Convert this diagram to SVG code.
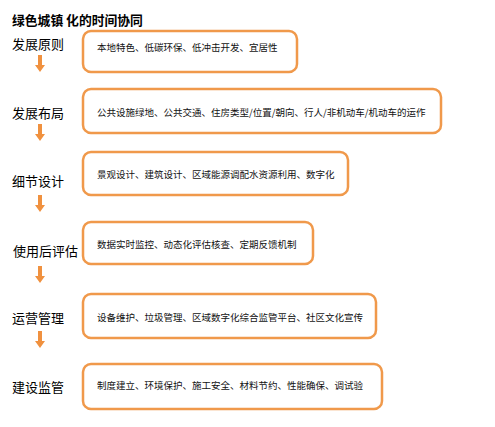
<svg xmlns="http://www.w3.org/2000/svg" width="495" height="427" viewBox="0 0 495 427">
<defs>
<style>
.box{fill:#fff;stroke:#F0994B;stroke-width:2.5}
.lbl{font-family:"Noto Sans CJK SC","Noto Sans",sans-serif;font-size:13px;fill:#000;dominant-baseline:central}
.txt{font-family:"Noto Sans CJK SC","Noto Sans",sans-serif;font-size:9.5px;fill:#111;dominant-baseline:central}
.ttl{font-family:"Noto Sans CJK SC","Noto Sans",sans-serif;font-size:12.8px;font-weight:bold;fill:#000;dominant-baseline:central}
.arr{fill:#F0913F}
</style>
<path id="ar" d="M-2,0 H2 V10 H5 L0,17 L-5,10 H-2 Z"/>
</defs>
<rect width="495" height="427" fill="#fff"/>
<text class="ttl" x="12" y="19">绿色城镇 化的时间协同</text>

<g id="n1">
<text class="lbl" x="12" y="43">发展原则</text>
<rect class="box" x="83" y="31" width="214" height="41" rx="8"/>
<text class="txt" x="97" y="47">本地特色、低碳环保、低冲击开发、宜居性</text>
</g>
<g id="n2">
<text class="lbl" x="12" y="112">发展布局</text>
<rect class="box" x="83" y="89" width="358" height="44" rx="8"/>
<text class="txt" x="97" y="112">公共设施绿地、公共交通、住房类型/位置/朝向、行人/非机动车/机动车的运作</text>
</g>
<g id="n3">
<text class="lbl" x="12" y="180">细节设计</text>
<rect class="box" x="83" y="152" width="265" height="43" rx="8"/>
<text class="txt" x="97" y="174">景观设计、建筑设计、区域能源调配水资源利用、数字化</text>
</g>
<g id="n4">
<text class="lbl" x="13" y="250">使用后评估</text>
<rect class="box" x="83" y="222" width="230" height="42" rx="8"/>
<text class="txt" x="97" y="244">数据实时监控、动态化评估核查、定期反馈机制</text>
</g>
<g id="n5">
<text class="lbl" x="12" y="317">运营管理</text>
<rect class="box" x="83" y="294" width="293" height="44" rx="8"/>
<text class="txt" x="97" y="317">设备维护、垃圾管理、区域数字化综合监管平台、社区文化宣传</text>
</g>
<g id="n6">
<text class="lbl" x="12" y="386">建设监管</text>
<rect class="box" x="83" y="364" width="299" height="45" rx="8"/>
<text class="txt" x="97" y="385">制度建立、环境保护、施工安全、材料节约、性能确保、调试验</text>
</g>

<g id="connectors" class="arr">
<use href="#ar" x="40" y="55"/>
<use href="#ar" x="40" y="124"/>
<use href="#ar" x="40" y="195"/>
<use href="#ar" x="40" y="266"/>
<use href="#ar" x="40" y="331"/>
</g>
</svg>
